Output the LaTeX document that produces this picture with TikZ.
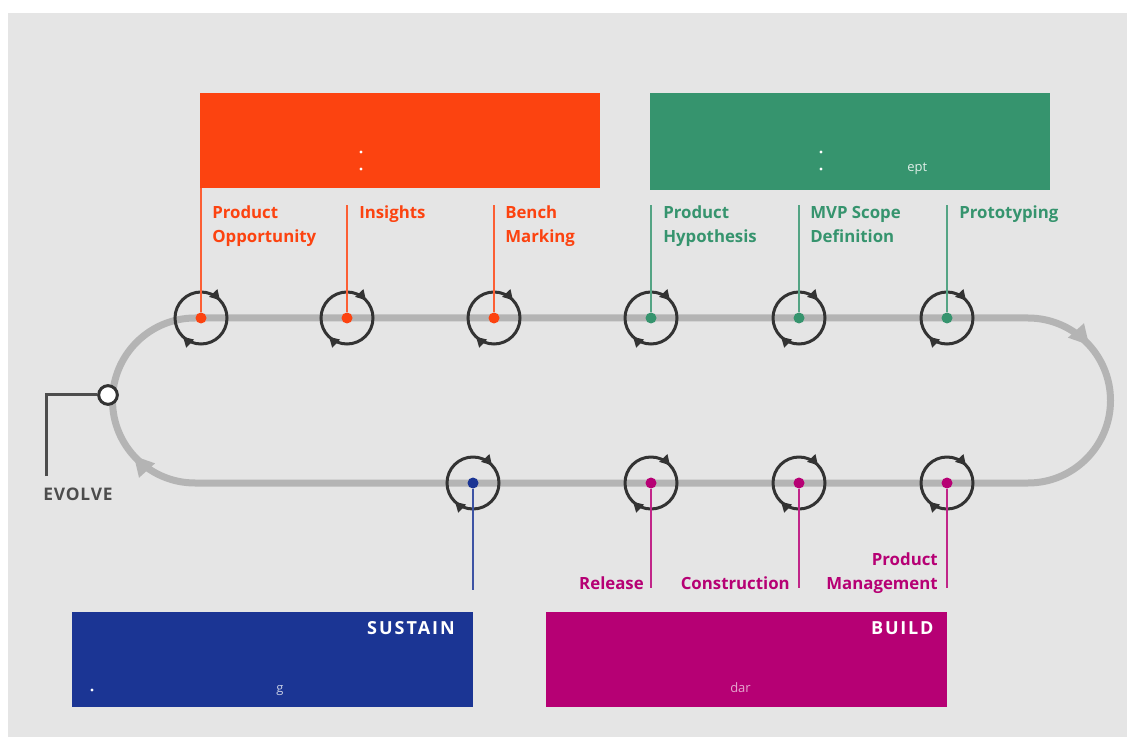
\documentclass[tikz,border=0pt]{standalone}
\usepackage{fontspec}
\setmainfont{Open Sans}
\usetikzlibrary{arrows.meta,decorations.markings}
\definecolor{orangeC}{RGB}{252,67,16}
\definecolor{greenC}{RGB}{54,148,110}
\definecolor{blueC}{RGB}{27,53,148}
\definecolor{magC}{RGB}{182,0,116}
\definecolor{trackC}{RGB}{180,180,180}
\definecolor{darkC}{RGB}{51,51,51}
\definecolor{evC}{RGB}{77,77,77}
\definecolor{bgC}{RGB}{229,229,229}
\begin{document}
\begin{tikzpicture}[x=0.75pt,y=0.75pt,
  lbl/.style={font=\bfseries\fontsize{12.6}{18}\selectfont, inner sep=0},
  ttl/.style={font=\bfseries\fontsize{13.5}{18}\selectfont, inner sep=0},
  frag/.style={font=\fontsize{9.75}{12}\selectfont, inner sep=0},
  panel/.style={inner sep=0, anchor=north west, minimum height=71.25pt},
  track/.style={draw=trackC, line width=5.25pt, postaction={decorate},
    decoration={markings,
      mark=at position 0.413 with {\arrow{Triangle[length=15pt,width=15pt]}},
      mark=at position 0.913 with {\arrow{Triangle[length=15pt,width=15pt]}}}},
  ring/.style={draw=darkC, line width=2.25pt, postaction={decorate},
    decoration={markings,
      mark=at position 0.131 with {\arrow{Triangle[length=7.5pt,width=8pt]}},
      mark=at position 0.622 with {\arrow{Triangle[length=7.5pt,width=8pt]}}}},
  dot/.style={circle, inner sep=0, minimum size=8.25pt},
  link/.style={line width=1pt},
  bul/.style={fill=white}
]
\useasboundingbox (0,0) rectangle (1127,-737);
\fill[white] (0,0) rectangle (1127,-737);
\fill[bgC] (8,-13) rectangle (1127,-737);

% panels
\node[panel, fill=orangeC, minimum width=300pt] (pOrange) at (200,-93) {};
\node[panel, fill=greenC, minimum width=300pt, minimum height=72.75pt] (pGreen) at (650,-93) {};
\node[panel, fill=blueC, minimum width=300.75pt] (pBlue) at (72,-612) {};
\node[panel, fill=magC, minimum width=300.75pt] (pMag) at (546,-612) {};

\node[ttl, text=white, anchor=base east] (tSustain) at (453,-634) {\addfontfeature{LetterSpace=11}SUSTAIN\kern-1.5pt};
\node[ttl, text=white, anchor=base east] (tBuild) at (932,-634) {\addfontfeature{LetterSpace=10}BUILD\kern-1.3pt};

% fragments
\fill[bul] (361,-152) circle (1.6);
\fill[bul] (361,-169) circle (1.6);
\fill[bul] (821,-152) circle (1.6);
\fill[bul] (821,-169) circle (1.6);
\fill[bul] (92,-690) circle (1.6);
\node[frag, text=white!85!greenC, anchor=base west] (fEpt) at (907,-172) {ept};
\node[frag, text=white!75!blueC, anchor=base west] (fG) at (276,-692) {g};
\node[frag, text=white!65!magC, anchor=base west] (fDar) at (730,-692) {dar};

% track
\draw[track] (195,-318) -- (1028,-318) arc[start angle=90,end angle=-90,radius=82.5]
  -- (195,-483) arc[start angle=270,end angle=90,radius=82.5] -- cycle;

% rings
\foreach \x/\y in {201/318,347/318,494/318,651/318,799/318,947/318,473/483,651/483,799/483,947/483}
  \draw[ring] (\x,-\y+26) arc[start angle=90,end angle=-270,radius=26];

% dots
\node[dot, fill=orangeC] (d1) at (201,-318) {};
\node[dot, fill=orangeC] (d2) at (347,-318) {};
\node[dot, fill=orangeC] (d3) at (494,-318) {};
\node[dot, fill=greenC] (d4) at (651,-318) {};
\node[dot, fill=greenC] (d5) at (799,-318) {};
\node[dot, fill=greenC] (d6) at (947,-318) {};
\node[dot, fill=blueC] (b1) at (473,-483) {};
\node[dot, fill=magC] (b2) at (651,-483) {};
\node[dot, fill=magC] (b3) at (799,-483) {};
\node[dot, fill=magC] (b4) at (947,-483) {};

\coordinate (e1) at (201,-188);
\coordinate (e2) at (347,-205);
\coordinate (e3) at (494,-205);
\coordinate (e4) at (651,-205);
\coordinate (e5) at (799,-205);
\coordinate (e6) at (947,-205);
\coordinate (f1) at (473,-590);
\coordinate (f2) at (651,-588);
\coordinate (f3) at (799,-588);
\coordinate (f4) at (947,-588);

\draw[link, orangeC!85!white] (d1) -- (e1);
\draw[link, orangeC!85!white] (d2) -- (e2);
\draw[link, orangeC!85!white] (d3) -- (e3);
\draw[link, greenC!85!white] (d4) -- (e4);
\draw[link, greenC!85!white] (d5) -- (e5);
\draw[link, greenC!85!white] (d6) -- (e6);
\draw[link, blueC!85!white] (b1) -- (f1);
\draw[link, magC!85!white] (b2) -- (f2);
\draw[link, magC!85!white] (b3) -- (f3);
\draw[link, magC!85!white] (b4) -- (f4);

% labels
\node[lbl, text=orangeC, anchor=base west] (l1) at (212,-218.5) {\begin{tabular}[t]{@{}l@{}}Product\\Opportunity\end{tabular}};
\node[lbl, text=orangeC, anchor=base west] (l2) at (359,-218.5) {Insights};
\node[lbl, text=orangeC, anchor=base west] (l3) at (505,-218.5) {\begin{tabular}[t]{@{}l@{}}Bench\\Marking\end{tabular}};
\node[lbl, text=greenC, anchor=base west] (l4) at (663,-218.5) {\begin{tabular}[t]{@{}l@{}}Product\\Hypothesis\end{tabular}};
\node[lbl, text=greenC, anchor=base west] (l5) at (810,-218.5) {\begin{tabular}[t]{@{}l@{}}MVP Scope\\Definition\end{tabular}};
\node[lbl, text=greenC, anchor=base west] (l6) at (959,-218.5) {Prototyping};
\node[lbl, text=magC, anchor=base east] (m2) at (644,-589) {Release};
\node[lbl, text=magC, anchor=base east] (m3) at (790,-589) {Construction};
\node[lbl, text=magC, anchor=base east] (m4) at (938,-589) {\begin{tabular}[b]{@{}r@{}}Product\\Management\end{tabular}};

% evolve
\node[circle, draw=darkC, fill=white, line width=2.25pt, inner sep=0, minimum size=14pt] (w) at (108,-395) {};
\coordinate (ev) at (46,-476);
\draw[evC, line width=2.25pt] (ev) |- (w);
\node[ttl, font=\bfseries\fontsize{13}{18}\selectfont, text=evC, anchor=base west] (tEvolve) at (43,-500) {\addfontfeature{LetterSpace=5}EVOLVE};
\end{tikzpicture}
\end{document}
